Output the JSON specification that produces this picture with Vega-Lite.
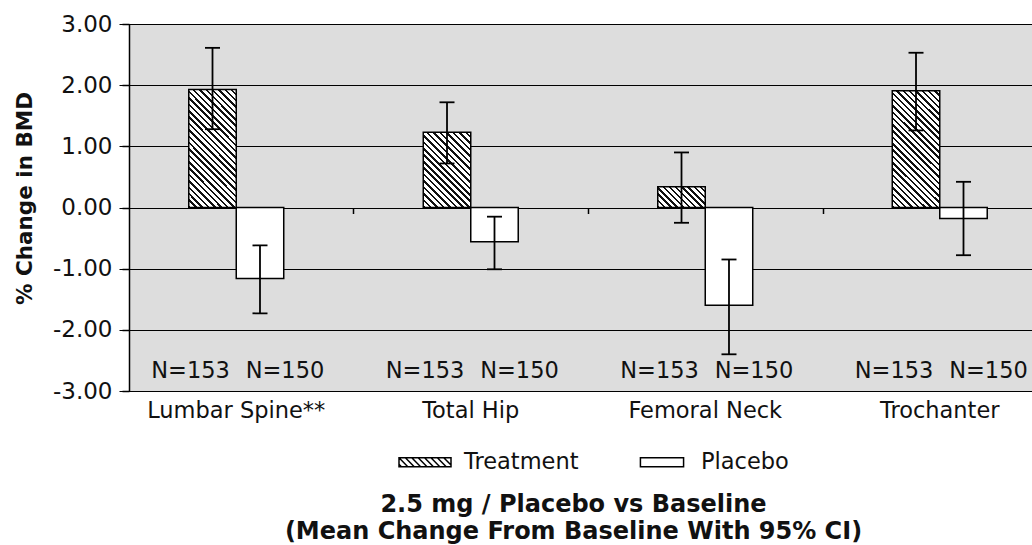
{
  "$schema": "https://vega.github.io/schema/vega-lite/v6.json",
  "width": 903,
  "height": 367,
  "autosize": {"type": "none"},
  "padding": {"left": 129, "top": 24, "right": 0, "bottom": 154},
  "background": "white",
  "config": {"view": {"stroke": null, "fill": "#dddddd"}, "font": "DejaVu Sans"},
  "title": {
    "text": ["2.5 mg / Placebo vs Baseline", "(Mean Change From Baseline With 95% CI)"],
    "orient": "bottom", "anchor": "middle", "frame": "group", "dx": -7, "offset": 19,
    "font": "DejaVu Sans", "fontSize": 24, "fontWeight": "bold", "lineHeight": 27, "color": "#111"
  },
  "data": {
    "values": [
      {"site": "Lumbar Spine**", "group": "Treatment", "mean": 1.93, "lo": 1.28, "hi": 2.61, "n": "N=153"},
      {"site": "Lumbar Spine**", "group": "Placebo", "mean": -1.16, "lo": -1.73, "hi": -0.62, "n": "N=150"},
      {"site": "Total Hip", "group": "Treatment", "mean": 1.23, "lo": 0.72, "hi": 1.72, "n": "N=153"},
      {"site": "Total Hip", "group": "Placebo", "mean": -0.56, "lo": -1.01, "hi": -0.15, "n": "N=150"},
      {"site": "Femoral Neck", "group": "Treatment", "mean": 0.34, "lo": -0.25, "hi": 0.9, "n": "N=153"},
      {"site": "Femoral Neck", "group": "Placebo", "mean": -1.6, "lo": -2.4, "hi": -0.85, "n": "N=150"},
      {"site": "Trochanter", "group": "Treatment", "mean": 1.91, "lo": 1.26, "hi": 2.53, "n": "N=153"},
      {"site": "Trochanter", "group": "Placebo", "mean": -0.18, "lo": -0.78, "hi": 0.42, "n": "N=150"}
    ]
  },
  "resolve": {"axis": {"x": "independent", "y": "shared"}},
  "layer": [
    {
      "transform": [{"filter": "datum.group === 'Placebo'"}],
      "mark": {"type": "bar", "fill": "white", "stroke": "black", "strokeWidth": 1.5},
      "encoding": {
        "x": {
          "field": "site", "type": "nominal",
          "scale": {"domain": ["Lumbar Spine**", "Total Hip", "Femoral Neck", "Trochanter"], "range": [-10, 928], "paddingInner": 0.595, "paddingOuter": 0.2975},
          "axis": {"orient": "bottom", "title": null, "labelAngle": 0, "labelFont": "DejaVu Sans", "labelFontSize": 22.5, "labelColor": "#111", "labelPadding": 8, "ticks": false, "domain": false, "grid": false}
        },
        "xOffset": {"field": "group", "type": "nominal", "scale": {"domain": ["Treatment", "Placebo"], "paddingInner": 0, "paddingOuter": 0}},
        "y": {
          "field": "mean", "type": "quantitative",
          "scale": {"domain": [-3, 3], "nice": false},
          "axis": {
            "title": "% Change in BMD", "values": [-3, -2, -1, 0, 1, 2, 3],
            "labelExpr": "(datum.value < 0 ? '-' : '') + format(abs(datum.value), '.2f')",
            "grid": true, "gridColor": "black", "gridWidth": 1.2, "gridOpacity": 1,
            "domain": true, "domainColor": "black", "domainWidth": 1.5,
            "ticks": true, "tickColor": "black", "tickSize": 7, "tickWidth": 1.5,
            "labelFont": "DejaVu Sans", "labelFontSize": 23, "labelColor": "#111", "labelPadding": 10,
            "titleFont": "DejaVu Sans", "titleFontSize": 21.5, "titleFontWeight": "bold", "titleColor": "#111", "titlePadding": 16, "titleY": 174
          }
        }
      }
    },
    {
      "transform": [{"filter": "datum.group === 'Treatment' && (datum.site === 'Lumbar Spine**' || datum.site === 'Trochanter')"}],
      "mark": {
        "type": "bar", "stroke": "black", "strokeWidth": 1.5,
        "fill": {"gradient": "linear", "x1": 0, "y1": 1, "x2": 0.488, "y2": -0.207, "stops": [
          {"offset": 0, "color": "#111"}, {"offset": 0.0154, "color": "#111"}, {"offset": 0.0154, "color": "#fff"}, {"offset": 0.0385, "color": "#fff"},
          {"offset": 0.0385, "color": "#111"}, {"offset": 0.0538, "color": "#111"}, {"offset": 0.0538, "color": "#fff"}, {"offset": 0.0769, "color": "#fff"},
          {"offset": 0.0769, "color": "#111"}, {"offset": 0.0923, "color": "#111"}, {"offset": 0.0923, "color": "#fff"}, {"offset": 0.1154, "color": "#fff"},
          {"offset": 0.1154, "color": "#111"}, {"offset": 0.1308, "color": "#111"}, {"offset": 0.1308, "color": "#fff"}, {"offset": 0.1538, "color": "#fff"},
          {"offset": 0.1538, "color": "#111"}, {"offset": 0.1692, "color": "#111"}, {"offset": 0.1692, "color": "#fff"}, {"offset": 0.1923, "color": "#fff"},
          {"offset": 0.1923, "color": "#111"}, {"offset": 0.2077, "color": "#111"}, {"offset": 0.2077, "color": "#fff"}, {"offset": 0.2308, "color": "#fff"},
          {"offset": 0.2308, "color": "#111"}, {"offset": 0.2462, "color": "#111"}, {"offset": 0.2462, "color": "#fff"}, {"offset": 0.2692, "color": "#fff"},
          {"offset": 0.2692, "color": "#111"}, {"offset": 0.2846, "color": "#111"}, {"offset": 0.2846, "color": "#fff"}, {"offset": 0.3077, "color": "#fff"},
          {"offset": 0.3077, "color": "#111"}, {"offset": 0.3231, "color": "#111"}, {"offset": 0.3231, "color": "#fff"}, {"offset": 0.3462, "color": "#fff"},
          {"offset": 0.3462, "color": "#111"}, {"offset": 0.3615, "color": "#111"}, {"offset": 0.3615, "color": "#fff"}, {"offset": 0.3846, "color": "#fff"},
          {"offset": 0.3846, "color": "#111"}, {"offset": 0.4, "color": "#111"}, {"offset": 0.4, "color": "#fff"}, {"offset": 0.4231, "color": "#fff"},
          {"offset": 0.4231, "color": "#111"}, {"offset": 0.4385, "color": "#111"}, {"offset": 0.4385, "color": "#fff"}, {"offset": 0.4615, "color": "#fff"},
          {"offset": 0.4615, "color": "#111"}, {"offset": 0.4769, "color": "#111"}, {"offset": 0.4769, "color": "#fff"}, {"offset": 0.5, "color": "#fff"},
          {"offset": 0.5, "color": "#111"}, {"offset": 0.5154, "color": "#111"}, {"offset": 0.5154, "color": "#fff"}, {"offset": 0.5385, "color": "#fff"},
          {"offset": 0.5385, "color": "#111"}, {"offset": 0.5538, "color": "#111"}, {"offset": 0.5538, "color": "#fff"}, {"offset": 0.5769, "color": "#fff"},
          {"offset": 0.5769, "color": "#111"}, {"offset": 0.5923, "color": "#111"}, {"offset": 0.5923, "color": "#fff"}, {"offset": 0.6154, "color": "#fff"},
          {"offset": 0.6154, "color": "#111"}, {"offset": 0.6308, "color": "#111"}, {"offset": 0.6308, "color": "#fff"}, {"offset": 0.6538, "color": "#fff"},
          {"offset": 0.6538, "color": "#111"}, {"offset": 0.6692, "color": "#111"}, {"offset": 0.6692, "color": "#fff"}, {"offset": 0.6923, "color": "#fff"},
          {"offset": 0.6923, "color": "#111"}, {"offset": 0.7077, "color": "#111"}, {"offset": 0.7077, "color": "#fff"}, {"offset": 0.7308, "color": "#fff"},
          {"offset": 0.7308, "color": "#111"}, {"offset": 0.7462, "color": "#111"}, {"offset": 0.7462, "color": "#fff"}, {"offset": 0.7692, "color": "#fff"},
          {"offset": 0.7692, "color": "#111"}, {"offset": 0.7846, "color": "#111"}, {"offset": 0.7846, "color": "#fff"}, {"offset": 0.8077, "color": "#fff"},
          {"offset": 0.8077, "color": "#111"}, {"offset": 0.8231, "color": "#111"}, {"offset": 0.8231, "color": "#fff"}, {"offset": 0.8462, "color": "#fff"},
          {"offset": 0.8462, "color": "#111"}, {"offset": 0.8615, "color": "#111"}, {"offset": 0.8615, "color": "#fff"}, {"offset": 0.8846, "color": "#fff"},
          {"offset": 0.8846, "color": "#111"}, {"offset": 0.9, "color": "#111"}, {"offset": 0.9, "color": "#fff"}, {"offset": 0.9231, "color": "#fff"},
          {"offset": 0.9231, "color": "#111"}, {"offset": 0.9385, "color": "#111"}, {"offset": 0.9385, "color": "#fff"}, {"offset": 0.9615, "color": "#fff"},
          {"offset": 0.9615, "color": "#111"}, {"offset": 0.9769, "color": "#111"}, {"offset": 0.9769, "color": "#fff"}, {"offset": 1, "color": "#fff"}
        ]}
      },
      "encoding": {
        "x": {"field": "site", "type": "nominal", "axis": {"orient": "bottom", "offset": -183.5, "labels": false, "domain": false, "ticks": true, "tickBand": "center", "tickOffset": 117.25, "tickSize": 6, "tickColor": "black", "tickWidth": 1.5, "grid": false, "title": null}},
        "xOffset": {"field": "group", "type": "nominal"},
        "y": {"field": "mean", "type": "quantitative"}
      }
    },
    {
      "transform": [{"filter": "datum.group === 'Treatment' && datum.site === 'Total Hip'"}],
      "mark": {
        "type": "bar", "stroke": "black", "strokeWidth": 1.5,
        "fill": {"gradient": "linear", "x1": 0, "y1": 1, "x2": 0.7367, "y2": -0.1664, "stops": [
          {"offset": 0, "color": "#111"}, {"offset": 0.0211, "color": "#111"}, {"offset": 0.0211, "color": "#fff"}, {"offset": 0.0526, "color": "#fff"},
          {"offset": 0.0526, "color": "#111"}, {"offset": 0.0737, "color": "#111"}, {"offset": 0.0737, "color": "#fff"}, {"offset": 0.1053, "color": "#fff"},
          {"offset": 0.1053, "color": "#111"}, {"offset": 0.1263, "color": "#111"}, {"offset": 0.1263, "color": "#fff"}, {"offset": 0.1579, "color": "#fff"},
          {"offset": 0.1579, "color": "#111"}, {"offset": 0.1789, "color": "#111"}, {"offset": 0.1789, "color": "#fff"}, {"offset": 0.2105, "color": "#fff"},
          {"offset": 0.2105, "color": "#111"}, {"offset": 0.2316, "color": "#111"}, {"offset": 0.2316, "color": "#fff"}, {"offset": 0.2632, "color": "#fff"},
          {"offset": 0.2632, "color": "#111"}, {"offset": 0.2842, "color": "#111"}, {"offset": 0.2842, "color": "#fff"}, {"offset": 0.3158, "color": "#fff"},
          {"offset": 0.3158, "color": "#111"}, {"offset": 0.3368, "color": "#111"}, {"offset": 0.3368, "color": "#fff"}, {"offset": 0.3684, "color": "#fff"},
          {"offset": 0.3684, "color": "#111"}, {"offset": 0.3895, "color": "#111"}, {"offset": 0.3895, "color": "#fff"}, {"offset": 0.4211, "color": "#fff"},
          {"offset": 0.4211, "color": "#111"}, {"offset": 0.4421, "color": "#111"}, {"offset": 0.4421, "color": "#fff"}, {"offset": 0.4737, "color": "#fff"},
          {"offset": 0.4737, "color": "#111"}, {"offset": 0.4947, "color": "#111"}, {"offset": 0.4947, "color": "#fff"}, {"offset": 0.5263, "color": "#fff"},
          {"offset": 0.5263, "color": "#111"}, {"offset": 0.5474, "color": "#111"}, {"offset": 0.5474, "color": "#fff"}, {"offset": 0.5789, "color": "#fff"},
          {"offset": 0.5789, "color": "#111"}, {"offset": 0.6, "color": "#111"}, {"offset": 0.6, "color": "#fff"}, {"offset": 0.6316, "color": "#fff"},
          {"offset": 0.6316, "color": "#111"}, {"offset": 0.6526, "color": "#111"}, {"offset": 0.6526, "color": "#fff"}, {"offset": 0.6842, "color": "#fff"},
          {"offset": 0.6842, "color": "#111"}, {"offset": 0.7053, "color": "#111"}, {"offset": 0.7053, "color": "#fff"}, {"offset": 0.7368, "color": "#fff"},
          {"offset": 0.7368, "color": "#111"}, {"offset": 0.7579, "color": "#111"}, {"offset": 0.7579, "color": "#fff"}, {"offset": 0.7895, "color": "#fff"},
          {"offset": 0.7895, "color": "#111"}, {"offset": 0.8105, "color": "#111"}, {"offset": 0.8105, "color": "#fff"}, {"offset": 0.8421, "color": "#fff"},
          {"offset": 0.8421, "color": "#111"}, {"offset": 0.8632, "color": "#111"}, {"offset": 0.8632, "color": "#fff"}, {"offset": 0.8947, "color": "#fff"},
          {"offset": 0.8947, "color": "#111"}, {"offset": 0.9158, "color": "#111"}, {"offset": 0.9158, "color": "#fff"}, {"offset": 0.9474, "color": "#fff"},
          {"offset": 0.9474, "color": "#111"}, {"offset": 0.9684, "color": "#111"}, {"offset": 0.9684, "color": "#fff"}, {"offset": 1, "color": "#fff"}
        ]}
      },
      "encoding": {
        "x": {"field": "site", "type": "nominal", "axis": null},
        "xOffset": {"field": "group", "type": "nominal"},
        "y": {"field": "mean", "type": "quantitative"}
      }
    },
    {
      "transform": [{"filter": "datum.group === 'Treatment' && datum.site === 'Femoral Neck'"}],
      "mark": {
        "type": "bar", "stroke": "black", "strokeWidth": 1.5,
        "fill": {"gradient": "linear", "x1": 0, "y1": 1, "x2": 1.2065, "y2": 0.4717, "stops": [
          {"offset": 0, "color": "#111"}, {"offset": 0.0364, "color": "#111"}, {"offset": 0.0364, "color": "#fff"}, {"offset": 0.0909, "color": "#fff"},
          {"offset": 0.0909, "color": "#111"}, {"offset": 0.1273, "color": "#111"}, {"offset": 0.1273, "color": "#fff"}, {"offset": 0.1818, "color": "#fff"},
          {"offset": 0.1818, "color": "#111"}, {"offset": 0.2182, "color": "#111"}, {"offset": 0.2182, "color": "#fff"}, {"offset": 0.2727, "color": "#fff"},
          {"offset": 0.2727, "color": "#111"}, {"offset": 0.3091, "color": "#111"}, {"offset": 0.3091, "color": "#fff"}, {"offset": 0.3636, "color": "#fff"},
          {"offset": 0.3636, "color": "#111"}, {"offset": 0.4, "color": "#111"}, {"offset": 0.4, "color": "#fff"}, {"offset": 0.4545, "color": "#fff"},
          {"offset": 0.4545, "color": "#111"}, {"offset": 0.4909, "color": "#111"}, {"offset": 0.4909, "color": "#fff"}, {"offset": 0.5455, "color": "#fff"},
          {"offset": 0.5455, "color": "#111"}, {"offset": 0.5818, "color": "#111"}, {"offset": 0.5818, "color": "#fff"}, {"offset": 0.6364, "color": "#fff"},
          {"offset": 0.6364, "color": "#111"}, {"offset": 0.6727, "color": "#111"}, {"offset": 0.6727, "color": "#fff"}, {"offset": 0.7273, "color": "#fff"},
          {"offset": 0.7273, "color": "#111"}, {"offset": 0.7636, "color": "#111"}, {"offset": 0.7636, "color": "#fff"}, {"offset": 0.8182, "color": "#fff"},
          {"offset": 0.8182, "color": "#111"}, {"offset": 0.8545, "color": "#111"}, {"offset": 0.8545, "color": "#fff"}, {"offset": 0.9091, "color": "#fff"},
          {"offset": 0.9091, "color": "#111"}, {"offset": 0.9455, "color": "#111"}, {"offset": 0.9455, "color": "#fff"}, {"offset": 1, "color": "#fff"}
        ]}
      },
      "encoding": {
        "x": {"field": "site", "type": "nominal", "axis": null},
        "xOffset": {"field": "group", "type": "nominal"},
        "y": {"field": "mean", "type": "quantitative"}
      }
    },
    {
      "mark": {"type": "rule", "color": "black", "strokeWidth": 1.8},
      "encoding": {
        "x": {"field": "site", "type": "nominal", "axis": null},
        "xOffset": {"field": "group", "type": "nominal"},
        "y": {"field": "lo", "type": "quantitative"},
        "y2": {"field": "hi"}
      }
    },
    {
      "mark": {"type": "tick", "color": "black", "thickness": 1.8, "size": 15, "opacity": 1},
      "encoding": {
        "x": {"field": "site", "type": "nominal", "axis": null},
        "xOffset": {"field": "group", "type": "nominal"},
        "y": {"field": "lo", "type": "quantitative"}
      }
    },
    {
      "mark": {"type": "tick", "color": "black", "thickness": 1.8, "size": 15, "opacity": 1},
      "encoding": {
        "x": {"field": "site", "type": "nominal", "axis": null},
        "xOffset": {"field": "group", "type": "nominal"},
        "y": {"field": "hi", "type": "quantitative"}
      }
    },
    {
      "transform": [{"filter": "datum.group === 'Treatment'"}],
      "mark": {"type": "text", "dx": -22, "font": "DejaVu Sans", "fontSize": 22.5, "color": "#111", "baseline": "middle"},
      "encoding": {
        "x": {"field": "site", "type": "nominal", "axis": null},
        "xOffset": {"field": "group", "type": "nominal"},
        "y": {"datum": -2.68, "type": "quantitative"},
        "text": {"field": "n"}
      }
    },
    {
      "transform": [{"filter": "datum.group === 'Placebo'"}],
      "mark": {"type": "text", "dx": 25, "font": "DejaVu Sans", "fontSize": 22.5, "color": "#111", "baseline": "middle"},
      "encoding": {
        "x": {"field": "site", "type": "nominal", "axis": null},
        "xOffset": {"field": "group", "type": "nominal"},
        "y": {"datum": -2.68, "type": "quantitative"},
        "text": {"field": "n"}
      }
    },
    {
      "mark": {"type": "point", "opacity": 0, "color": "black"},
      "encoding": {
        "x": {"field": "site", "type": "nominal", "axis": null},
        "xOffset": {"field": "group", "type": "nominal"},
        "y": {"field": "mean", "type": "quantitative"},
        "shape": {
          "field": "group", "type": "nominal",
          "scale": {
            "domain": ["Treatment", "Placebo"],
            "range": [
              "M-1,-0.17H1V0.17H-1Z M-1,0.076L-0.906,0.17 M-1,-0.17L-0.66,0.17 M-0.754,-0.17L-0.414,0.17 M-0.508,-0.17L-0.168,0.17 M-0.262,-0.17L0.078,0.17 M-0.016,-0.17L0.324,0.17 M0.23,-0.17L0.57,0.17 M0.476,-0.17L0.816,0.17 M0.722,-0.17L1,0.108",
              "M-0.83,-0.17H0.83V0.17H-0.83Z"
            ]
          },
          "legend": {
            "orient": "none", "legendX": 269, "legendY": 411, "direction": "horizontal", "title": null,
            "symbolSize": 2704, "symbolStrokeColor": "black", "symbolStrokeWidth": 1.5, "symbolFillColor": "white", "symbolOpacity": 1,
            "labelFont": "DejaVu Sans", "labelFontSize": 22.5, "labelColor": "#111", "labelOffset": 12, "columnPadding": 56, "padding": 0
          }
        }
      }
    }
  ]
}
